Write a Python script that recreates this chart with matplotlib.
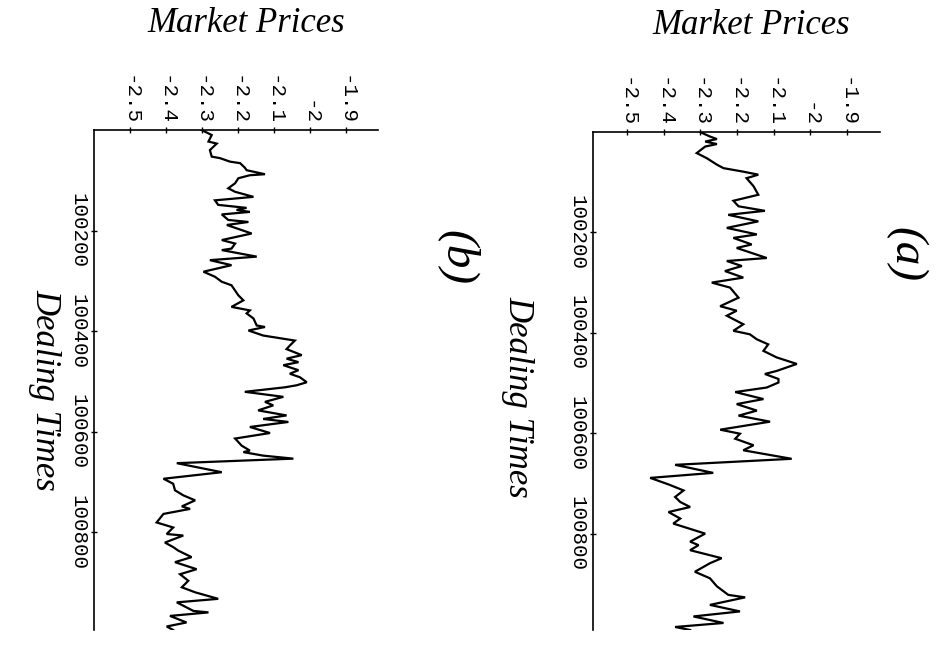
import matplotlib.pyplot as plt

# Dealing times and market prices for the two series
times_a = [100000, 100009, 100014, 100019, 100024, 100029, 100042, 100052, 100065, 100072,
           100079, 100085, 100092, 100108, 100125, 100137, 100148, 100157, 100165, 100178,
           100191, 100204, 100211, 100224, 100231, 100251, 100257, 100267, 100277, 100290,
           100300, 100310, 100330, 100347, 100356, 100366, 100383, 100396, 100403, 100413,
           100423, 100436, 100449, 100462, 100476, 100482, 100492, 100499, 100509, 100518,
           100532, 100542, 100555, 100565, 100577, 100593, 100601, 100611, 100624, 100634,
           100651, 100663, 100679, 100689, 100702, 100714, 100727, 100737, 100747, 100757,
           100770, 100780, 100800, 100816, 100823, 100833, 100849, 100859, 100876, 100889,
           100905, 100922, 100927, 100942, 100955, 100965, 100978, 100986, 100992]
prices_a = [-2.301, -2.274, -2.255, -2.287, -2.255, -2.287, -2.310, -2.283, -2.255, -2.237,
            -2.183, -2.142, -2.174, -2.155, -2.142, -2.210, -2.196, -2.124, -2.224, -2.142,
            -2.228, -2.146, -2.210, -2.160, -2.201, -2.119, -2.228, -2.187, -2.233, -2.183,
            -2.269, -2.219, -2.196, -2.246, -2.201, -2.228, -2.183, -2.210, -2.165, -2.146,
            -2.115, -2.128, -2.092, -2.037, -2.092, -2.124, -2.087, -2.087, -2.119, -2.205,
            -2.128, -2.201, -2.146, -2.196, -2.110, -2.246, -2.192, -2.205, -2.155, -2.183,
            -2.051, -2.369, -2.265, -2.437, -2.387, -2.346, -2.369, -2.355, -2.328, -2.387,
            -2.355, -2.374, -2.287, -2.328, -2.305, -2.328, -2.242, -2.274, -2.315, -2.274,
            -2.255, -2.224, -2.178, -2.274, -2.192, -2.319, -2.237, -2.369, -2.328]

times_b = [100000, 100010, 100023, 100027, 100040, 100053, 100056, 100063, 100066, 100075,
           100080, 100088, 100090, 100096, 100106, 100116, 100123, 100133, 100140, 100149,
           100155, 100159, 100163, 100168, 100179, 100183, 100189, 100206, 100219, 100226,
           100236, 100239, 100252, 100259, 100269, 100282, 100292, 100302, 100309, 100329,
           100339, 100352, 100359, 100365, 100375, 100389, 100392, 100399, 100409, 100419,
           100429, 100436, 100448, 100455, 100462, 100468, 100478, 100485, 100492, 100502,
           100508, 100512, 100521, 100531, 100541, 100548, 100558, 100568, 100575, 100581,
           100591, 100603, 100614, 100628, 100638, 100641, 100648, 100654, 100663, 100681,
           100694, 100704, 100717, 100727, 100737, 100749, 100754, 100764, 100781, 100791,
           100804, 100807, 100821, 100830, 100837, 100850, 100860, 100874, 100884, 100897,
           100910, 100920, 100933, 100940, 100957, 100960, 100967, 100980, 100988, 100995]
prices_b = [-2.301, -2.273, -2.282, -2.259, -2.278, -2.273, -2.250, -2.222, -2.194, -2.181,
            -2.176, -2.125, -2.167, -2.199, -2.208, -2.227, -2.208, -2.157, -2.264, -2.255,
            -2.176, -2.204, -2.167, -2.245, -2.227, -2.171, -2.231, -2.162, -2.245, -2.208,
            -2.218, -2.245, -2.148, -2.278, -2.218, -2.296, -2.264, -2.245, -2.218, -2.199,
            -2.185, -2.218, -2.167, -2.176, -2.157, -2.148, -2.125, -2.171, -2.130, -2.042,
            -2.056, -2.065, -2.023, -2.065, -2.032, -2.074, -2.032, -2.056, -2.028, -2.009,
            -2.037, -2.069, -2.181, -2.074, -2.125, -2.102, -2.144, -2.065, -2.130, -2.060,
            -2.167, -2.111, -2.208, -2.190, -2.167, -2.185, -2.130, -2.046, -2.370, -2.245,
            -2.407, -2.380, -2.375, -2.352, -2.319, -2.356, -2.333, -2.407, -2.426, -2.380,
            -2.398, -2.352, -2.403, -2.380, -2.366, -2.329, -2.375, -2.315, -2.361, -2.338,
            -2.356, -2.319, -2.255, -2.370, -2.324, -2.282, -2.389, -2.343, -2.398, -2.380]

price_ticks = [-2.5, -2.4, -2.3, -2.2, -2.1, -2.0, -1.9]
price_labels = ["-2.5", "-2.4", "-2.3", "-2.2", "-2.1", "-2", "-1.9"]
time_ticks = [100200, 100400, 100600, 100800]
time_labels = ["100200", "100400", "100600", "100800"]

W, H = 945, 646
fig = plt.figure(figsize=(W / 100, H / 100), dpi=100)
fig.patch.set_facecolor("white")

serif = dict(family="Liberation Serif", style="italic", size=25)
mono = dict(family="Liberation Mono", size=15)


def panel(left, top, right, bottom, times, prices, xlim, tag, tag_xy, title_xy, label_xy):
    ax = fig.add_axes([left / W, 1 - bottom / H, (right - left) / W, (bottom - top) / H])
    ax.plot(prices, times, color="black", lw=1.6, solid_joinstyle="miter")
    ax.set_xlim(*xlim)
    ax.set_ylim(times[-1], times[0])

    for s in ("right", "bottom"):
        ax.spines[s].set_visible(False)
    for s in ("left", "top"):
        ax.spines[s].set_linewidth(1.2)

    ax.xaxis.tick_top()
    ax.set_xticks(price_ticks)
    ax.set_xticklabels(price_labels, rotation=-90, fontdict=mono)
    ax.set_yticks(time_ticks)
    ax.set_yticklabels(time_labels, rotation=-90, va="center", fontdict=mono)
    ax.tick_params(axis="x", direction="inout", length=5, width=1.0, pad=1)
    ax.tick_params(axis="y", direction="inout", length=5, width=1.0, pad=2)

    fig.text(title_xy[0] / W, 1 - title_xy[1] / H, "Market Prices",
             ha="center", va="center", **serif)
    fig.text(label_xy[0] / W, 1 - label_xy[1] / H, "Dealing Times",
             ha="center", va="center", rotation=-90, **serif)
    fig.text(tag_xy[0] / W, 1 - tag_xy[1] / H, tag,
             ha="center", va="center", rotation=-90,
             family="Liberation Serif", style="italic", size=34)
    return ax


# (b) on the left, (a) on the right
panel(94, 130, 378, 630, times_b, prices_b, (-2.6, -1.811), "(b)",
      (458, 258), (246, 24), (45, 390))
panel(593, 132, 880, 630, times_a, prices_a, (-2.593, -1.81), "(a)",
      (906, 255), (751, 26), (518, 397))

fig.savefig("out.png", dpi=100, facecolor="white")
